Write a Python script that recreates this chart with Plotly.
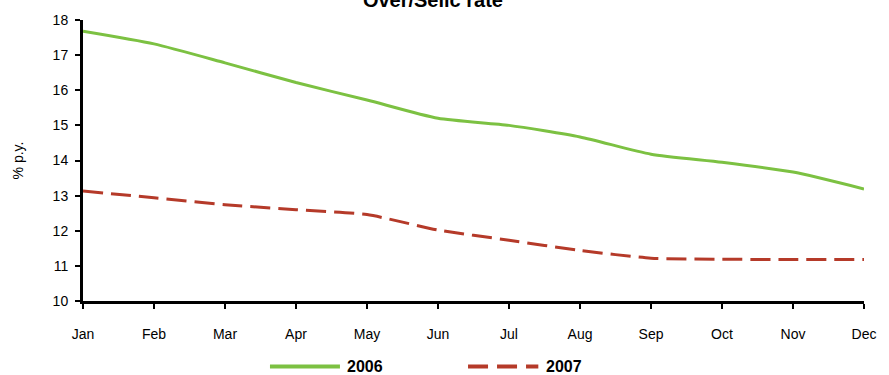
import plotly.graph_objects as go

months = ["Jan", "Feb", "Mar", "Apr", "May", "Jun", "Jul", "Aug", "Sep", "Oct", "Nov", "Dec"]
rate_2006 = [17.68, 17.32, 16.78, 16.22, 15.72, 15.20, 15.00, 14.67, 14.18, 13.95, 13.67, 13.19]
rate_2007 = [13.13, 12.94, 12.74, 12.60, 12.46, 12.02, 11.73, 11.44, 11.22, 11.19, 11.18, 11.18]
y_ticks = [10, 11, 12, 13, 14, 15, 16, 17, 18]

GREEN = "#7CC142"
RED = "#B53A29"
FONT = "Liberation Sans, Arial, sans-serif"

fig = go.Figure()
fig.add_trace(go.Scatter(x=months, y=rate_2006, mode="lines", name="2006",
                         line=dict(color=GREEN, width=3, shape="spline", smoothing=0.6)))
fig.add_trace(go.Scatter(x=months, y=rate_2007, mode="lines", name="2007",
                         line=dict(color=RED, width=3, dash="20px,8px", shape="spline", smoothing=0.6)))

fig.update_layout(
    width=889, height=375,
    margin=dict(l=83, r=25, t=18, b=74),
    paper_bgcolor="white", plot_bgcolor="white",
    showlegend=False,
    font=dict(family=FONT, size=14, color="black"),
    title=dict(text="<b>Over/Selic rate</b>", x=0.487, xanchor="center", y=1.0, yanchor="middle",
               yref="container", font=dict(size=20, family=FONT, color="black")),
)
fig.update_xaxes(
    type="category", range=[0, 11], showgrid=False, zeroline=False,
    showline=True, linecolor="black", linewidth=3,
    ticks="outside", ticklen=5, tickwidth=2, tickcolor="black",
    ticklabelstandoff=13, tickfont=dict(size=14),
)
fig.update_yaxes(
    range=[10, 18], tickvals=y_ticks, showgrid=False, zeroline=False,
    showline=True, linecolor="black", linewidth=3,
    ticks="outside", ticklen=5, tickwidth=2, tickcolor="black",
    ticklabelstandoff=4, tickfont=dict(size=14),
    title=dict(text="% p.y.", font=dict(size=14), standoff=26),
)

# Legend drawn below the plot: line sample plus bold label for each year
legend_items = [("2006", GREEN, "solid", 0.2394, 0.329), ("2007", RED, "20px,9px", 0.493, 0.583)]
for label, color, dash, x0, x1 in legend_items:
    fig.add_shape(type="line", xref="paper", yref="paper", x0=x0, x1=x1, y0=-0.233, y1=-0.233,
                  line=dict(color=color, width=4, dash=dash))
    fig.add_annotation(xref="paper", yref="paper", x=x1 + 0.007, y=-0.233, xanchor="left",
                       yanchor="middle", showarrow=False, text=f"<b>{label}</b>",
                       font=dict(size=16, family=FONT, color="black"))

fig.write_html("out.html")
